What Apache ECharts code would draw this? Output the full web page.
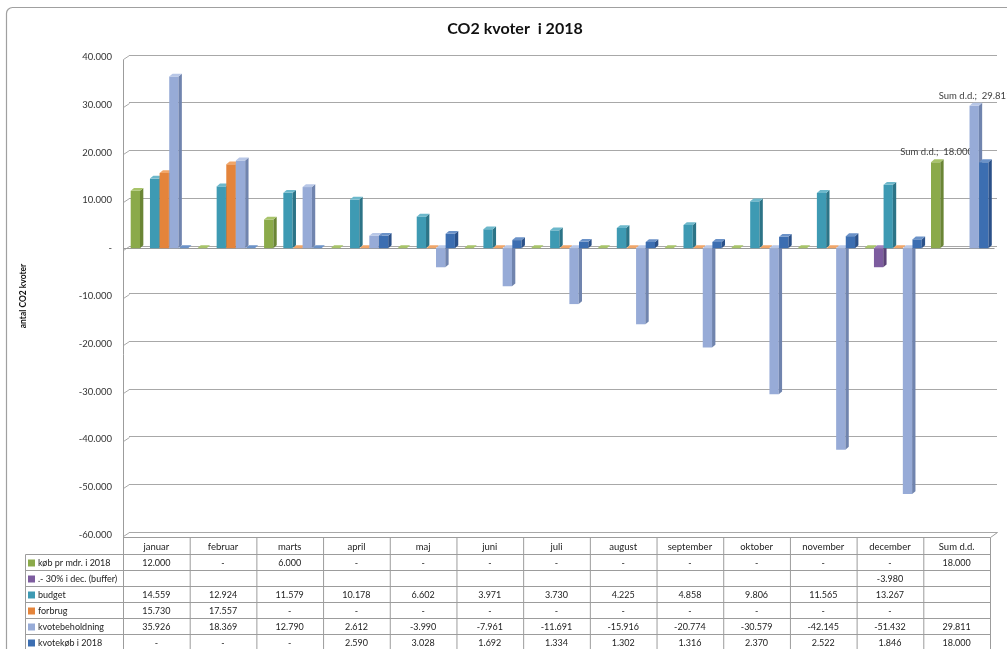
<!DOCTYPE html>
<html><head><meta charset="utf-8">
<script src="https://cdn.jsdelivr.net/npm/echarts/dist/echarts.min.js"></script>
<style>html,body{margin:0;padding:0;background:#fff}#c{width:1007px;height:649px}</style>
</head><body><div id="c"></div>
<script>
// ---------- data ----------
const categories = ['januar','februar','marts','april','maj','juni','juli','august','september','oktober','november','december','Sum d.d.'];
const seriesNames = ['køb pr mdr. i 2018', '.- 30% i dec. (buffer)', 'budget', 'forbrug', 'kvotebeholdning', 'kvotekøb i 2018'];
// null = blank cell, 0 = "-"
const kob        = [12000, 0, 6000, 0, 0, 0, 0, 0, 0, 0, 0, 0, 18000];
const buffer     = [null, null, null, null, null, null, null, null, null, null, null, -3980, null];
const budget     = [14559, 12924, 11579, 10178, 6602, 3971, 3730, 4225, 4858, 9806, 11565, 13267, null];
const forbrug    = [15730, 17557, 0, 0, 0, 0, 0, 0, 0, 0, 0, 0, null];
const beholdning = [35926, 18369, 12790, 2612, -3990, -7961, -11691, -15916, -20774, -30579, -42145, -51432, 29811];
const kvotekob   = [0, 0, 0, 2590, 3028, 1692, 1334, 1302, 1316, 2370, 2522, 1846, 18000];
const yMin = -60000, yMax = 40000, yStep = 10000;
const labelledSeries = [0, 4];
const labelledCategory = 12;
const title = 'CO2 kvoter  i 2018';
const yName = 'antal CO2 kvoter';

const allSeries = [kob, buffer, budget, forbrug, beholdning, kvotekob];
const COLORS = [
 {front:'#8BAA4A', side:'#6A8535', top:'#A8C46A'},
 {front:'#7D5C9F', side:'#5C4378', top:'#9D80BD'},
 {front:'#3E9AB3', side:'#2C7487', top:'#6DB8CB'},
 {front:'#E4843B', side:'#B4632A', top:'#F1A669'},
 {front:'#97ABD7', side:'#7084AE', top:'#B8C7E7'},
 {front:'#3C6EB1', side:'#2B5189', top:'#6B92C8'}
];
const FONT = 'Lato, "Open Sans", sans-serif';

function fmt(v){
  if (v === null || v === undefined) return '';
  if (v === 0) return '-';
  const s = Math.abs(v).toString().replace(/\B(?=(\d{3})+(?!\d))/g, '.');
  return (v < 0 ? '-' : '') + s;
}

function makeRender(si){
  return function(params, api){
    const ci = api.value(0), v = api.value(1);
    const band = api.size([1,0])[0];
    const p0 = api.coord([ci, 0]), p1 = api.coord([ci, v]);
    const x = p0[0] - band*0.3846 + si*band*0.1444;
    const w = band*0.1394, d = band*0.05, dy = d*0.85;
    const yTop = Math.min(p0[1], p1[1]), yBot = Math.max(p0[1], p1[1]);
    const c = COLORS[si];
    const children = [];
    if (yBot - yTop > 0.5) {
      children.push({type:'rect', shape:{x:x, y:yTop, width:w, height:yBot-yTop}, style:{fill:c.front}});
      children.push({type:'polygon', shape:{points:[[x+w,yTop],[x+w+d,yTop-dy],[x+w+d,yBot-dy],[x+w,yBot]]}, style:{fill:c.side}});
    }
    children.push({type:'polygon', shape:{points:[[x,yTop],[x+d,yTop-dy],[x+w+d,yTop-dy],[x+w,yTop]]}, style:{fill:c.top}});
    if (ci === labelledCategory && labelledSeries.indexOf(si) >= 0) {
      children.push({type:'text', style:{text: categories[ci] + ';  ' + fmt(v), x: x + w/2 + 1, y: yTop - 10,
        align:'center', verticalAlign:'middle', textAlign:'center', textVerticalAlign:'middle',
        fill:'#404040', fontSize:9.5, fontFamily:FONT}});
    }
    return {type:'group', children: children};
  };
}

const chart = echarts.init(document.getElementById('c'), null, {renderer:'canvas'});
const series = allSeries.map((arr, si) => ({
  type:'custom', name: seriesNames[si], xAxisIndex:0, yAxisIndex:0,
  renderItem: makeRender(si), encode:{x:0, y:1},
  data: arr.map((v, i) => v === null ? null : [i, v]).filter(d => d !== null),
  z: 3
}));

chart.setOption({
  animation:false,
  title:{text:title, left:510, textAlign:'center', top:16, textStyle:{fontFamily:FONT, fontSize:16, fontWeight:'bold', color:'#111'}},
  grid:[
    {left:123, right:17, top:57, bottom:114},
    {left:129, right:10, top:55, bottom:117}
  ],
  xAxis:[
    {type:'category', gridIndex:0, data:categories, axisLine:{show:false}, axisTick:{show:false}, splitLine:{show:false},
     axisLabel:{margin:7, fontSize:9.5, color:'#222', fontFamily:FONT, interval:0}},
    {type:'category', gridIndex:1, data:categories, show:false}
  ],
  yAxis:[
    {type:'value', gridIndex:0, min:yMin, max:yMax, interval:yStep, splitLine:{show:false}, axisLine:{show:false}, axisTick:{show:false},
     axisLabel:{formatter:v => fmt(v), margin:11, fontSize:9.5, color:'#333', fontFamily:FONT, padding:[5,0,0,0]},
     name:yName, nameLocation:'middle', nameRotate:90, nameGap:95,
     nameTextStyle:{fontFamily:FONT, fontSize:8.5, fontWeight:'bold', color:'#111'}},
    {type:'value', gridIndex:1, min:yMin, max:yMax, interval:yStep, axisLabel:{show:false}, axisLine:{show:false}, axisTick:{show:false},
     splitLine:{show:true, lineStyle:{color:'#a8a8a8', width:1}}}
  ],
  series: series
});

// ---------- frame, walls and data table ----------
const g = [];
const GRAY = '#9c9c9c';
function line(x1,y1,x2,y2,color,z){ g.push({type:'line', shape:{x1:x1,y1:y1,x2:x2,y2:y2}, style:{stroke:color||GRAY, lineWidth:1}, z:z||1}); }
function text(t,x,y,align,opts){ g.push({type:'text', z:5, style:Object.assign({text:t, x:x, y:y, align:align, textAlign:align,
  verticalAlign:'middle', textVerticalAlign:'middle', fill:'#222', fontSize:9, fontFamily:FONT}, opts||{})}); }

const cx0 = chart.convertToPixel({xAxisIndex:0}, 0);
const cx1 = chart.convertToPixel({xAxisIndex:0}, 1);
const band = cx1 - cx0;
const L = Math.round(cx0 - band/2) + 0.5;
const R = Math.round(cx0 + band*(categories.length - 0.5)) + 0.5;
const yBack = v => chart.convertToPixel({yAxisIndex:1}, v);
const yMain = v => chart.convertToPixel({yAxisIndex:0}, v);

// chart frame
g.push({type:'rect', shape:{x:6.5, y:7.5, width:1100, height:700, r:6}, style:{fill:'none', stroke:'#a0a0a0', lineWidth:1.2}, z:0});

// left wall edges
for (let v = yMin; v <= yMax; v += yStep) {
  const yb = Math.round(yBack(v)) + 0.5;
  line(L, yb + 4, L + 6, yb, '#a8a8a8');
}
// floor
const floorBack = Math.round(yBack(yMin)) + 0.5;
const headTop = floorBack + 5;
line(L + 6, floorBack, R + 7, floorBack, '#a8a8a8');
line(R, headTop, R + 7, floorBack, GRAY);
// zero axis line (front)
const y0 = Math.round(yMain(0)) + 0.5;
line(L, y0, R + 4, y0, '#9a9a9a', 1);

// table
const rowH = 16;
const headBot = headTop + 17;
const nRows = seriesNames.length;
const bottom = headBot + rowH * nRows;
line(L, Math.round(yBack(yMax)) + 4.5, L, bottom);
line(L, headTop, R, headTop);
for (let k = 0; k <= nRows; k++) line(25.5, headBot + k*rowH, R, headBot + k*rowH);
line(25.5, headBot, 25.5, bottom);
for (let k = 1; k <= categories.length; k++) line(L + band*k, headTop, L + band*k, bottom);

allSeries.forEach((arr, si) => {
  const yc = headBot + si*rowH + rowH/2 + 0.5;
  g.push({type:'rect', shape:{x:28, y:yc - 3.5, width:7, height:7}, style:{fill:COLORS[si].front}, z:5});
  text(seriesNames[si], 38, yc, 'left');
  arr.forEach((v, ci) => {
    const x = chart.convertToPixel({xAxisIndex:0}, ci);
    text(fmt(v), x, yc, 'center');
  });
});

chart.setOption({graphic:{elements:g}});
</script></body></html>
